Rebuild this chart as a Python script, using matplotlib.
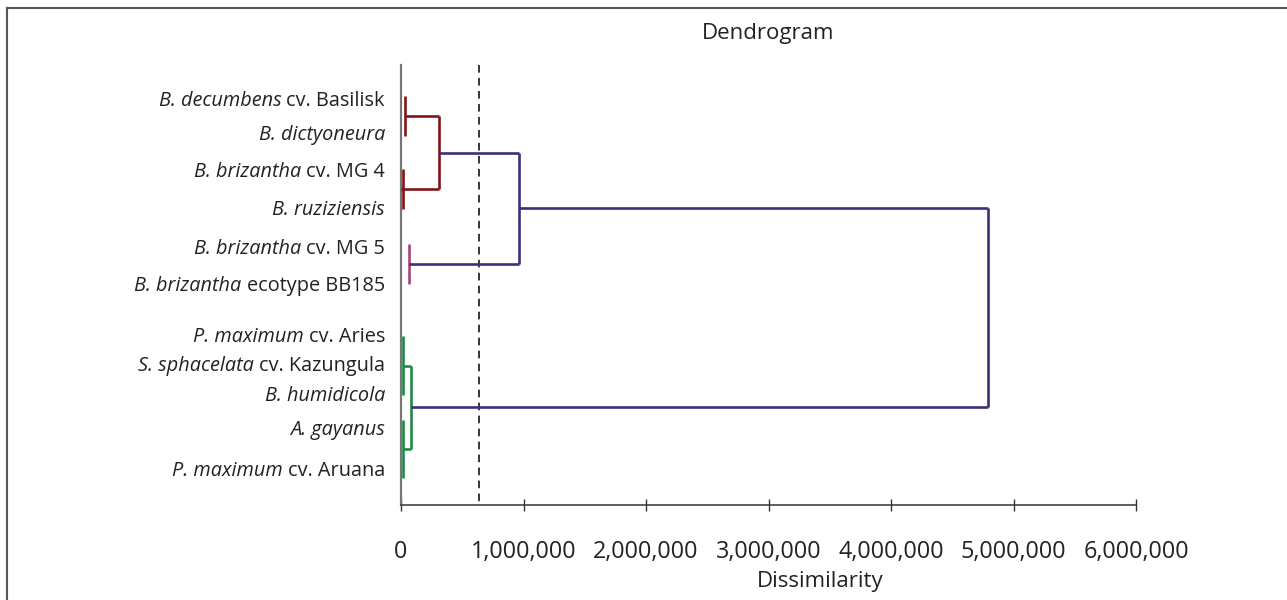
import matplotlib
matplotlib.use("Agg")
import matplotlib.pyplot as plt
from matplotlib.ticker import FuncFormatter
from matplotlib.lines import Line2D

# ---------------- data ----------------
italic_parts = ["B. decumbens", "B. dictyoneura", "B. brizantha", "B. ruziziensis",
                "B. brizantha", "B. brizantha", "P. maximum", "S. sphacelata",
                "B. humidicola", "A. gayanus", "P. maximum"]
regular_parts = ["cv. Basilisk", "", "cv. MG 4", "", "cv. MG 5", "ecotype BB185",
                 "cv. Aries", "cv. Kazungula", "", "", "cv. Aruana"]

# merge heights (dissimilarity)
h_basilisk_dicty = 33000
h_mg4_ruzi = 15000
h_red = 310000
h_mg5_bb185 = 65000
h_brach = 963000
h_green_a = 16000
h_green_b = 16000
h_green = 82000
h_root = 4790000
cut_level = 637000

xticks = [0, 1000000, 2000000, 3000000, 4000000, 5000000, 6000000]

# ---------------- layout ----------------
W, H = 1287, 600
leaf_y = [97, 135, 170, 208, 245, 283, 337, 366, 394, 421, 477]   # pixel rows
label_y = [101, 135, 172, 210, 249, 286, 337, 366, 396, 430, 471]

c_red = "#801418"
c_navy = "#3a2f78"
c_pink = "#a8447c"
c_green = "#1f8a47"
lw = 1.9

plt.rcParams['font.family'] = ['Open Sans', 'DejaVu Sans']

fig = plt.figure(figsize=(W / 100, H / 100), dpi=100)
x0, x1 = 401, 1136
ytop, ybot = 65, 505
ax = fig.add_axes([x0 / W, 1 - ybot / H, (x1 - x0) / W, (ybot - ytop) / H])
ax.set_xlim(0, 6000000)
ax.set_ylim(ybot, ytop)


def vline(x, ya, yb, c, ext=0):
    ax.plot([x, x], [ya - ext, yb + ext], color=c, lw=lw, solid_capstyle='butt', zorder=3)


def hline(y, xa, xb, c):
    ax.plot([xa, xb], [y, y], color=c, lw=lw, solid_capstyle='butt', zorder=3)


def leaf_pair(ya, yb, h, c):
    # near-zero merge: only the vertical is visible
    vline(h, ya, yb, c, ext=1)
    return (ya + yb) / 2


def merge(ya, xa, yb, xb, h, c):
    hline(ya, xa, h, c)
    hline(yb, xb, h, c)
    vline(h, ya, yb, c)
    return (ya + yb) / 2


# red
yA = leaf_pair(leaf_y[0], leaf_y[1], h_basilisk_dicty, c_red)
yB = leaf_pair(leaf_y[2], leaf_y[3], h_mg4_ruzi, c_red)
yC = merge(yA, h_basilisk_dicty, yB, 0, h_red, c_red)
# pink
yD = leaf_pair(leaf_y[4], leaf_y[5], h_mg5_bb185, c_pink)
# navy join
yE = merge(yC, h_red, yD, h_mg5_bb185, h_brach, c_navy)
# green
yF = leaf_pair(leaf_y[6], leaf_y[8], h_green_a, c_green)
yG = leaf_pair(leaf_y[9], leaf_y[10], h_green_b, c_green)
yH = merge(yF, h_green_a, yG, h_green_b, h_green, c_green)
# root
merge(yE, h_brach, yH, h_green, h_root, c_navy)

# cut line
ax.plot([cut_level, cut_level], [ytop, ybot], color='black', lw=1.1,
        ls=(0, (5, 3.5)), zorder=2)

# axes styling
for s in ('top', 'right'):
    ax.spines[s].set_visible(False)
ax.spines['left'].set_color('#777777')
ax.spines['left'].set_linewidth(1.6)
ax.spines['bottom'].set_color('#333333')
ax.spines['bottom'].set_linewidth(1.1)
ax.set_yticks([])
ax.set_xticks(xticks)
ax.xaxis.set_major_formatter(FuncFormatter(lambda v, p: f"{int(v):,}"))
ax.tick_params(axis='x', direction='inout', length=9, width=1.0, color='#333333',
               pad=20.5, labelsize=16.8, labelcolor='#222222')

fig.text((x0 + x1) / 2 / W, 1 - 33 / H, "Dendrogram", ha='center', va='center',
         fontsize=16, color='#222222')
fig.text(820 / W, 1 - 582 / H, "Dissimilarity", ha='center', va='center',
         fontsize=16, color='#222222')

# labels
renderer = fig.canvas.get_renderer()
label_right = 385
fs = 14.3
for it, rg, y in zip(italic_parts, regular_parts, label_y):
    ypix = H - y
    xr = label_right
    if rg:
        t = fig.text(xr / W, ypix / H, rg, ha='right', va='center', fontsize=fs,
                     color='#222222')
        w = t.get_window_extent(renderer).width
        xr = xr - w - 5
    fig.text(xr / W, ypix / H, it, ha='right', va='center', fontsize=fs,
             style='italic', color='#222222')

# outer frame (left and top)
fig.add_artist(Line2D([6.5 / W, 6.5 / W], [0, 1 - 8 / H], color='#555555', lw=1.5,
                      transform=fig.transFigure))
fig.add_artist(Line2D([6.5 / W, 1], [1 - 8 / H, 1 - 8 / H], color='#555555', lw=1.5,
                      transform=fig.transFigure))

fig.savefig("out.png", dpi=100)
